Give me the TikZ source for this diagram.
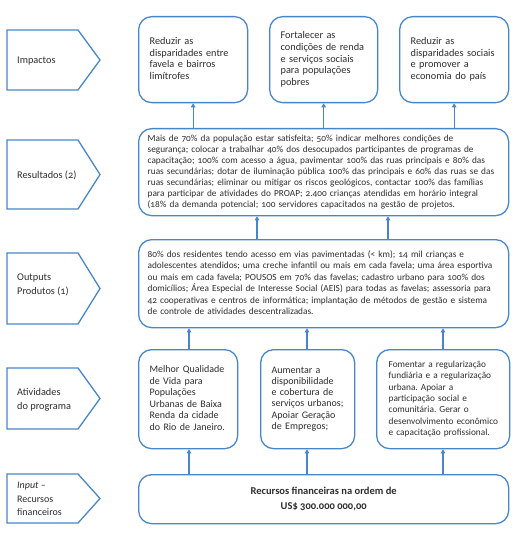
\documentclass[tikz,border=0pt]{standalone}
\usepackage{fontspec}
\setmainfont{Carlito}[Numbers=OldStyle]
\usetikzlibrary{arrows.meta}
\definecolor{lblue}{RGB}{72,134,204}
\definecolor{txt}{RGB}{45,45,45}
\newcommand\mylines[1]{\begin{tabular}{@{}l@{}}#1\end{tabular}}
\tikzset{
  box/.style={draw=lblue, line width=1.3pt, rounded corners=13pt, anchor=north west, align=left, text=txt, inner ysep=0pt},
  tag/.style={draw=lblue, line width=1.3pt},
  taglabel/.style={anchor=west, align=left, text=txt, inner sep=0pt, font=\fontsize{10.3}{14}\selectfont},
  arr/.style={draw=lblue, line width=1.3pt, -{Triangle[width=4.5pt,length=4pt]}}
}
\begin{document}
\frenchspacing
\begin{tikzpicture}[x=1pt,y=-1pt]
\useasboundingbox (0,0) rectangle (525,537);
% left tags
\draw[tag] (7,30) -- (78,30) -- (100,60) -- (78,90) -- (7,90) -- cycle;
\node[taglabel] (lim) at (17,61) {Impactos};
\draw[tag] (7,140) -- (78,140) -- (100,174.5) -- (78,209) -- (7,209) -- cycle;
\node[taglabel] (lres) at (17,175) {Resultados (2)};
\draw[tag] (7,253) -- (78,253) -- (100,288.5) -- (78,324) -- (7,324) -- cycle;
\node[taglabel] (lout) at (17,285) {Outputs\\Produtos (1)};
\draw[tag] (7,368) -- (78,368) -- (100,398.5) -- (78,429) -- (7,429) -- cycle;
\node[taglabel] (lati) at (17,400) {Atividades\\do programa};
\draw[tag] (7,474) -- (78,474) -- (100,498.5) -- (78,523) -- (7,523) -- cycle;
\node[taglabel, font=\fontsize{10}{13.5}\selectfont] (linp) at (17,499) {\textit{Input} –\\Recursos\\financeiros};
% impact boxes
\node[box, minimum height=86pt, inner xsep=11pt, text width=87pt, font=\fontsize{10.3}{11.8}\selectfont] (i1) at (138,16)
  {\mylines{Reduzir as\\disparidades entre\\favela e bairros\\limítrofes}};
\node[box, minimum height=86pt, inner xsep=11pt, text width=86pt, font=\fontsize{10.3}{11.8}\selectfont] (i2) at (269,16)
  {\mylines{Fortalecer as\\condições de renda\\e serviços sociais\\para populações\\pobres}};
\node[box, minimum height=86pt, inner xsep=11pt, text width=87pt, font=\fontsize{10.3}{11.8}\selectfont] (i3) at (399,16)
  {\mylines{Reduzir as\\disparidades sociais\\e promover a\\economia do país}};
% resultados
\node[box, minimum height=87pt, inner xsep=9pt, text width=352pt, font=\fontsize{9.3}{11}\selectfont] (res) at (138,128)
  {\mylines{Mais de 70\% da população estar satisfeita; 50\% indicar melhores condições de\\
  segurança; colocar a trabalhar 40\% dos desocupados participantes de programas de\\
  capacitação; 100\% com acesso a água, pavimentar 100\% das ruas principais e 80\% das\\
  ruas secundárias; dotar de iluminação pública 100\% das principais e 60\% das ruas se das\\
  ruas secundárias; eliminar ou mitigar os riscos geológicos, contactar 100\% das famílias\\
  para participar de atividades do PROAP; 2.400 crianças atendidas em horário integral\\
  (18\% da demanda potencial; 100 servidores capacitados na gestão de projetos.}};
% outputs
\node[box, minimum height=88pt, inner xsep=9pt, text width=352pt, font=\fontsize{9.3}{11.4}\selectfont] (out) at (138,239)
  {\mylines{80\% dos residentes tendo acesso em vias pavimentadas (< km); 14 mil crianças e\\
  adolescentes atendidos; uma creche infantil ou mais em cada favela; uma área esportiva\\
  ou mais em cada favela; POUSOS em 70\% das favelas; cadastro urbano para 100\% dos\\
  domicílios; Área Especial de Interesse Social (AEIS) para todas as favelas; assessoria para\\
  42 cooperativas e centros de informática; implantação de métodos de gestão e sistema\\
  de controle de atividades descentralizadas.}};
% activities
\node[box, minimum height=99pt, inner xsep=11pt, text width=77pt, font=\fontsize{10}{11.5}\selectfont] (a1) at (138,349)
  {\mylines{Melhor Qualidade\\de Vida para\\Populações\\Urbanas de Baixa\\Renda da cidade\\do Rio de Janeiro.}};
\node[box, minimum height=99pt, inner xsep=11pt, text width=72pt, font=\fontsize{10}{11.2}\selectfont] (a2) at (260,349)
  {\mylines{Aumentar a\\disponibilidade\\e cobertura de\\serviços urbanos;\\Apoiar Geração\\de Empregos;}};
\node[box, minimum height=99pt, inner xsep=12pt, text width=109pt, font=\fontsize{9.3}{11.4}\selectfont] (a3) at (376,349)
  {\mylines{Fomentar a regularização\\fundiária e a regularização\\urbana. Apoiar a\\participação social e\\comunitária. Gerar o\\desenvolvimento econômico\\e capacitação profissional.}};
% input
\node[box, minimum height=49pt, minimum width=370pt, align=center, font=\bfseries\fontsize{10.5}{15}\selectfont] (inp) at (138,474)
  {Recursos financeiras na ordem de\\US\$ 300.000 000,00};
% connectors
\draw[arr] (res.north -| i1.south) -- (i1.south);
\draw[arr] (res.north -| i2.south) -- (i2.south);
\draw[arr] (res.north -| i3.south) -- (i3.south);
\coordinate (c1) at (257,0);
\coordinate (c2) at (388,0);
\draw[arr] (out.north -| c1) -- (res.south -| c1);
\draw[arr] (out.north -| c2) -- (res.south -| c2);
\coordinate (d1) at (189,0);
\coordinate (d2) at (307,0);
\coordinate (d3) at (443,0);
\draw[arr] (a1.north -| d1) -- (out.south -| d1);
\draw[arr] (a2.north -| d2) -- (out.south -| d2);
\draw[arr] (a3.north -| d3) -- (out.south -| d3);
\draw[arr] (inp.north -| d1) -- (a1.south -| d1);
\draw[arr] (inp.north -| d2) -- (a2.south -| d2);
\draw[arr] (inp.north -| d3) -- (a3.south -| d3);
\end{tikzpicture}
\end{document}
